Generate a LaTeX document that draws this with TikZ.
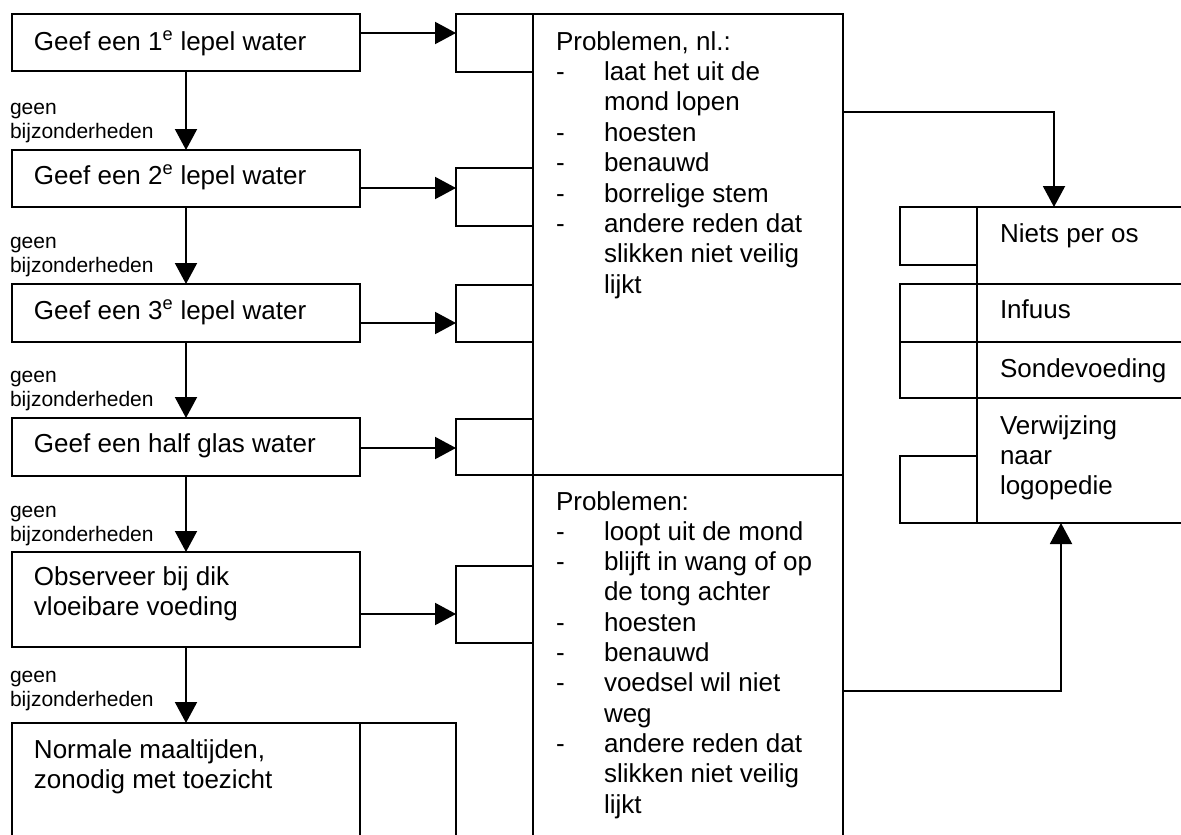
\documentclass[tikz,border=0pt]{standalone}
\usepackage{fontspec}
\setmainfont{Liberation Sans}
\usetikzlibrary{arrows.meta}
\begin{document}
\begin{tikzpicture}[x=1pt,y=-1pt,line width=2pt,
  box/.style={draw,line width=2pt,anchor=north west,inner sep=0pt,outer sep=0pt},
  big/.style={font=\fontsize{26}{30}\selectfont,anchor=base west,inner sep=0pt},
  small/.style={font=\fontsize{21}{24}\selectfont,anchor=base west,inner sep=0pt},
  arr/.style={-{Triangle[length=21pt,width=22pt]},line width=2pt}]
\useasboundingbox (0,0) rectangle (1181,835);
\clip (0,0) rectangle (1181,835);
% left column
\node[box,minimum width=348pt,minimum height=57pt] (b1) at (12,14) {};
\node[box,minimum width=348pt,minimum height=57pt] (b2) at (12,150) {};
\node[box,minimum width=348pt,minimum height=58pt] (b3) at (12,284) {};
\node[box,minimum width=348pt,minimum height=58pt] (b4) at (12,418) {};
\node[box,minimum width=348pt,minimum height=95pt] (b5) at (12,552) {};
\node[box,minimum width=444pt,minimum height=140pt] (b6) at (12,723) {};
\draw (b6.north -| 360,0) -- (b6.south -| 360,0);
% middle small boxes
\node[box,minimum width=77pt,minimum height=58pt] (s1) at (456,14) {};
\node[box,minimum width=77pt,minimum height=58pt] (s2) at (456,168) {};
\node[box,minimum width=77pt,minimum height=57pt] (s3) at (456,285) {};
\node[box,minimum width=77pt,minimum height=56pt] (s4) at (456,419) {};
\node[box,minimum width=77pt,minimum height=77pt] (s5) at (456,566) {};
% problem boxes
\node[box,minimum width=310pt,minimum height=461pt] (p1) at (533,14) {};
\node[box,minimum width=310pt,minimum height=385pt] (p2) at (533,475) {};
% right column
\node[box,minimum width=77pt,minimum height=58pt] (r1s) at (900,207) {};
\node[box,minimum width=77pt,minimum height=58pt] (r2s) at (900,284) {};
\node[box,minimum width=77pt,minimum height=56pt] (r3s) at (900,342) {};
\node[box,minimum width=77pt,minimum height=67pt] (r4s) at (900,456) {};
\node[box,minimum width=230pt,minimum height=77pt] (r1) at (977,207) {};
\node[box,minimum width=230pt,minimum height=58pt] (r2) at (977,284) {};
\node[box,minimum width=230pt,minimum height=56pt] (r3) at (977,342) {};
\node[box,minimum width=230pt,minimum height=125pt] (r4) at (977,398) {};
% texts left
\node[big] (t1) at (33,50) {Geef een 1\textsuperscript{e} lepel water};
\node[big] (t2) at (33,184) {Geef een 2\textsuperscript{e} lepel water};
\node[big] (t3) at (33,319) {Geef een 3\textsuperscript{e} lepel water};
\node[big] (t4) at (33,452) {Geef een half glas water};
\node[big] (t5a) at (33,585) {Observeer bij dik};
\node[big] (t5b) at (33,615) {vloeibare voeding};
\node[big] (t6a) at (33,758) {Normale maaltijden,};
\node[big] (t6b) at (33,788) {zonodig met toezicht};
\foreach \y [count=\i] in {114,248,382,517,682}{
  \node[small] (ga\i) at (9,\y) {geen};
  \node[small] (gb\i) at (9,{\y+24.5}) {bijzonderheden};
}
% upper problem text
\node[big] (ph) at (555,50) {Problemen, nl.:};
\foreach \k/\t in {1/laat het uit de,2/mond lopen,3/hoesten,4/benauwd,5/borrelige stem,6/andere reden dat,7/slikken niet veilig,8/lijkt}
  \node[big] (pa\k) at (603,{50+30.4*\k}) {\t};
\foreach \k in {1,3,4,5,6}
  \node[big] (pd\k) at (555,{50+30.4*\k}) {-};
% lower problem text
\node[big] (qh) at (555,510) {Problemen:};
\foreach \k/\t in {1/loopt uit de mond,2/blijft in wang of op,3/de tong achter,4/hoesten,5/benauwd,6/voedsel wil niet,7/weg,8/andere reden dat,9/slikken niet veilig,10/lijkt}
  \node[big] (qa\k) at (603,{510+30.3*\k}) {\t};
\foreach \k in {1,2,4,5,6,8}
  \node[big] (qd\k) at (555,{510+30.3*\k}) {-};
% right texts
\node[big] (n1) at (999,242) {Niets per os};
\node[big] (n2) at (999,318) {Infuus};
\node[big] (n3) at (999,377) {Sondevoeding};
\node[big] (n4a) at (999,434) {Verwijzing};
\node[big] (n4b) at (999,464) {naar};
\node[big] (n4c) at (999,494) {logopedie};
% vertical arrows
\draw[arr] (b1.south) -- (b2.north);
\draw[arr] (b2.south) -- (b3.north);
\draw[arr] (b3.south) -- (b4.north);
\draw[arr] (b4.south) -- (b5.north);
\draw[arr] (b5.south) -- (b6.north -| b5.south);
% horizontal arrows
\draw[arr] (b1.east |- 0,33) -- (s1.west |- 0,33);
\draw[arr] (b2.east |- 0,188) -- (s2.west |- 0,188);
\draw[arr] (b3.east |- 0,323) -- (s3.west |- 0,323);
\draw[arr] (b4.east |- 0,448) -- (s4.west |- 0,448);
\draw[arr] (b5.east |- 0,614) -- (s5.west |- 0,614);
% to right column
\draw[arr] (p1.east |- 0,112) -| (r1.north -| 1054,0);
\draw[arr] (p2.east |- 0,691) -| (r4.south -| 1061,0);
\end{tikzpicture}
\end{document}
